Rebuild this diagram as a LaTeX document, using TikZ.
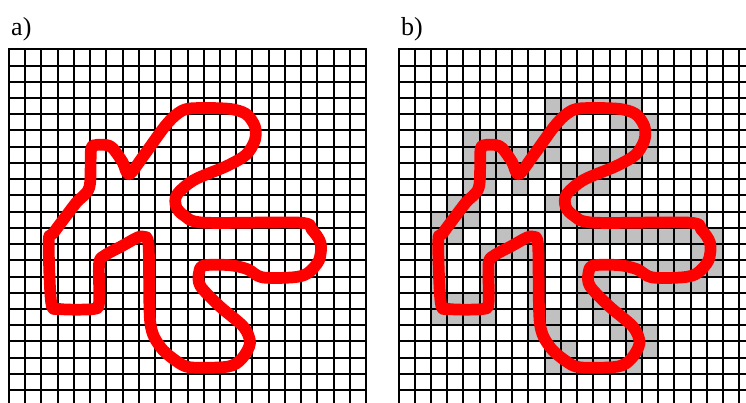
\documentclass[tikz,border=0pt]{standalone}
\usepackage{fontspec}
\setmainfont{Liberation Serif}
\usepackage{tikz}
\usetikzlibrary{positioning}
\usepackage{xcolor}
\definecolor{cellgray}{RGB}{192,192,192}
\definecolor{blobred}{RGB}{255,0,0}

\begin{document}
\begin{tikzpicture}[x=12.17pt, y=-12.17pt]
\tikzstyle{gridline} = [draw=black, line width=1.5pt, line cap=rect];
\tikzstyle{blob} = [draw=blobred, line width=8.8pt, line join=round, line cap=round];
\tikzstyle{panel} = [anchor=base west, inner sep=0pt, font=\fontsize{19.5}{22}\selectfont];

\useasboundingbox (-0.555,-3.038) rectangle (45.41,21.79);
\clip (-0.555,-3.038) rectangle (45.41,21.79);

\node (labela) [panel] at (0.12,-0.88) {a)};
\node (labelb) [panel] at (24.15,-0.88) {b)};

% cells hit by the contour (panel b)
\foreach \c/\r in {9/3,10/3,11/3,12/3,13/3,14/3,
  9/4,10/4,13/4,14/4,15/4,
  4/5,5/5,6/5,8/5,9/5,14/5,15/5,
  4/6,5/6,6/6,7/6,8/6,9/6,12/6,13/6,14/6,15/6,
  4/7,5/7,6/7,7/7,8/7,10/7,11/7,12/7,13/7,14/7,
  4/8,5/8,7/8,10/8,11/8,12/8,
  3/9,4/9,9/9,10/9,
  2/10,3/10,4/10,10/10,11/10,12/10,13/10,14/10,15/10,16/10,17/10,18/10,
  2/11,3/11,6/11,7/11,8/11,11/11,12/11,13/11,14/11,15/11,16/11,17/11,18/11,19/11,
  2/12,5/12,6/12,7/12,8/12,18/12,19/12,
  2/13,5/13,8/13,11/13,12/13,13/13,14/13,15/13,16/13,17/13,18/13,19/13,
  2/14,5/14,8/14,11/14,12/14,15/14,16/14,17/14,18/14,
  2/15,3/15,4/15,5/15,8/15,11/15,12/15,13/15,
  2/16,3/16,4/16,5/16,8/16,9/16,12/16,13/16,14/16,
  8/17,9/17,13/17,14/17,15/17,
  9/18,10/18,14/18,15/18,
  9/19,10/19,11/19,12/19,13/19,14/19}
  \fill[cellgray] (24+\c,\r) rectangle ++(1,1);

% grids
\foreach \k in {0,...,22} {
  \draw[gridline] (\k,0) -- (\k,22);
  \draw[gridline] (24+\k,0) -- (24+\k,22);
}
\foreach \k in {0,...,22} {
  \draw[gridline] (0,\k) -- (22,\k);
  \draw[gridline] (24,\k) -- (46,\k);
}

% contour
\foreach \dx in {0,24}
  \draw[blob, shift={(\dx,0)}] plot[smooth cycle, tension=0.5] coordinates {
    (7.4,7.7) (8.3,6.55) (9.6,4.75) (10.4,3.95) (11.2,3.64) (13.5,3.66)
    (14.6,3.98) (15.15,4.75) (15.15,5.6) (14.6,6.5) (13.4,7.2) (11.4,8.05)
    (10.35,8.95) (10.3,9.7) (10.8,10.25) (12.0,10.68) (17.9,10.68) (18.65,11.1)
    (19.2,11.95) (19.1,13.0) (18.4,13.8) (17.5,14.05) (15.6,14.05) (14.7,13.55)
    (13.6,13.3) (12.0,13.32) (11.7,13.8) (11.8,14.6) (13.0,15.85) (14.45,17.1)
    (14.85,18.1) (14.35,19.05) (13.5,19.55) (11.2,19.6) (10.3,19.2) (9.3,18.3)
    (8.7,16.8) (8.6,12.1) (8.3,11.55) (7.9,11.6) (7.0,12.1) (5.9,12.7)
    (5.55,13.2) (5.55,15.6) (5.2,16.0) (3.1,16.0) (2.6,15.6) (2.45,11.8)
    (2.75,11.3) (4.1,9.5) (4.95,8.5) (5.05,6.2) (5.35,5.9) (6.0,5.9)
    (6.4,6.1) (7.0,6.95)};
\end{tikzpicture}
\end{document}
